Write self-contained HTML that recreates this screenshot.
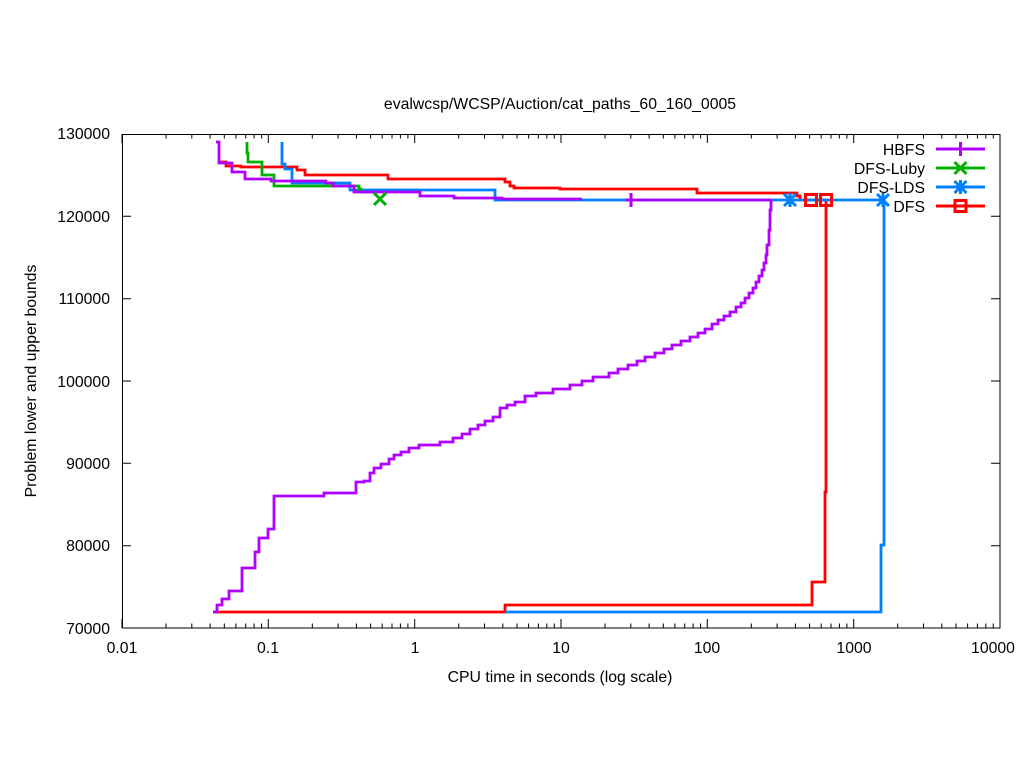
<!DOCTYPE html>
<html><head><meta charset="utf-8"><style>body{margin:0;background:#fff}svg{display:block}text{font-family:"Liberation Sans",sans-serif;font-size:15.8px;fill:#000}</style></head><body>
<svg width="1024" height="768" viewBox="0 0 1024 768" xmlns="http://www.w3.org/2000/svg">
<rect width="1024" height="768" fill="#fff"/>
<g stroke="#000" stroke-width="1" fill="none">
<rect x="122.5" y="134.5" width="877.5" height="493.5"/>
<path d="M122,628v-9M268.3,628v-9M414.7,628v-9M561,628v-9M707.3,628v-9M853.7,628v-9M1000,628v-9M122,134v9M268.3,134v9M414.7,134v9M561,134v9M707.3,134v9M853.7,134v9M1000,134v9"/>
<path d="M166,628v-4.5M191.8,628v-4.5M210.1,628v-4.5M224.3,628v-4.5M235.9,628v-4.5M245.7,628v-4.5M254.1,628v-4.5M261.6,628v-4.5M312.3,628v-4.5M338.1,628v-4.5M356.4,628v-4.5M370.6,628v-4.5M382.2,628v-4.5M392,628v-4.5M400.4,628v-4.5M407.9,628v-4.5M458.7,628v-4.5M484.5,628v-4.5M502.8,628v-4.5M517,628v-4.5M528.6,628v-4.5M538.4,628v-4.5M546.8,628v-4.5M554.3,628v-4.5M605,628v-4.5M630.8,628v-4.5M649.1,628v-4.5M663.3,628v-4.5M674.9,628v-4.5M684.7,628v-4.5M693.1,628v-4.5M700.6,628v-4.5M751.3,628v-4.5M777.1,628v-4.5M795.4,628v-4.5M809.6,628v-4.5M821.2,628v-4.5M831,628v-4.5M839.4,628v-4.5M846.9,628v-4.5M897.7,628v-4.5M923.5,628v-4.5M941.8,628v-4.5M956,628v-4.5M967.6,628v-4.5M977.4,628v-4.5M985.8,628v-4.5M993.3,628v-4.5"/>
<path d="M166,134v4.5M191.8,134v4.5M210.1,134v4.5M224.3,134v4.5M235.9,134v4.5M245.7,134v4.5M254.1,134v4.5M261.6,134v4.5M312.3,134v4.5M338.1,134v4.5M356.4,134v4.5M370.6,134v4.5M382.2,134v4.5M392,134v4.5M400.4,134v4.5M407.9,134v4.5M458.7,134v4.5M484.5,134v4.5M502.8,134v4.5M517,134v4.5M528.6,134v4.5M538.4,134v4.5M546.8,134v4.5M554.3,134v4.5M605,134v4.5M630.8,134v4.5M649.1,134v4.5M663.3,134v4.5M674.9,134v4.5M684.7,134v4.5M693.1,134v4.5M700.6,134v4.5M751.3,134v4.5M777.1,134v4.5M795.4,134v4.5M809.6,134v4.5M821.2,134v4.5M831,134v4.5M839.4,134v4.5M846.9,134v4.5M897.7,134v4.5M923.5,134v4.5M941.8,134v4.5M956,134v4.5M967.6,134v4.5M977.4,134v4.5M985.8,134v4.5M993.3,134v4.5"/>
<path d="M122,545.7h9M122,463.3h9M122,381h9M122,298.7h9M122,216.3h9M1000,545.7h-9M1000,463.3h-9M1000,381h-9M1000,298.7h-9M1000,216.3h-9"/>
</g>
<g text-anchor="end">
<text x="110" y="634">70000</text><text x="110" y="551">80000</text><text x="110" y="469">90000</text><text x="110" y="387">100000</text><text x="110" y="304">110000</text><text x="110" y="222">120000</text><text x="110" y="139">130000</text>
</g>
<g text-anchor="middle">
<text x="122" y="653">0.01</text><text x="268" y="653">0.1</text><text x="415" y="653">1</text><text x="561" y="653">10</text><text x="707" y="653">100</text><text x="854" y="653">1000</text><text x="993" y="653">10000</text>
<text x="560" y="109">evalwcsp/WCSP/Auction/cat_paths_60_160_0005</text>
<text x="560" y="682">CPU time in seconds (log scale)</text>
<text transform="translate(36,381) rotate(-90)">Problem lower and upper bounds</text>
</g>
<g fill="none" stroke-width="2.8" stroke-linejoin="miter">
<path stroke="#ff0000" d="M213,612H505V605H812V582H825V492H826V200M219,162H226V166H241V167H297V170H305V175H388V179H505V182H510V186H514V188H560V189H697V193H797V196H800V200H826"/>
<path stroke="#0080ff" d="M505,612H881V545H884V200M282,142V164H285V169H292V183H350V190H495V200H884"/>
<path stroke="#00b000" d="M247,142V153H248V162H262V175H274V186H359V189H361V192H380"/>
<path stroke="#b000ff" d="M216,142H219V163H232V172H245V179H271V181H326V183H333V186H354V192H420V196H454V198H502V199H582M625,200H771M213,612H217V605H222V599H229V591H242V568H255V552H259V538H268V529H274V496H324V493H356V482H364V481H370V473H374V468H381V464H389V459H394V455H401V452H409V448H419V445H440V442H453V438H462V434H470V429H478V425H485V421H493V417H500V408H507V405H515V402H525V396H536V393H553V389H570V385H582V381H593V377H609V373H618V369H628V365H637V361H645V357H655V353H664V349H672V345H681V341H690V337H698V333H705V329H712V324H718V320H724V316H730V312H736V307H741V303H745V298H749V293H753V288H756V282H759V276H762V270H764V263H766V255H767V245H769V230H770V210H771V200"/>
</g>
<g fill="none" stroke-width="3">
<path stroke="#b000ff" d="M631,193v14"/>
<path stroke="#00b000" d="M374,193l12,12M386,193l-12,12"/>
<path stroke="#0080ff" d="M784,194l12,12M796,194l-12,12M790,193v14M877,194l12,12M889,194l-12,12M883,193v14"/>
<path stroke="#ff0000" d="M805.5,194.5h11v11h-11zM820.5,194.5h11v11h-11z"/>
</g>
<g text-anchor="end">
<text x="925" y="155">HBFS</text><text x="925" y="174">DFS-Luby</text><text x="925" y="193">DFS-LDS</text><text x="925" y="212">DFS</text>
</g>
<g fill="none" stroke-width="3">
<path stroke="#b000ff" d="M936,149h49M960.5,142v14"/>
<path stroke="#00b000" d="M936,168h49M954.5,162l12,12M966.5,162l-12,12"/>
<path stroke="#0080ff" d="M936,187h49M954.5,181l12,12M966.5,181l-12,12M960.5,180v14"/>
<path stroke="#ff0000" d="M936,206h49M955,200.5h11v11h-11z"/>
</g>
</svg>
</body></html>
